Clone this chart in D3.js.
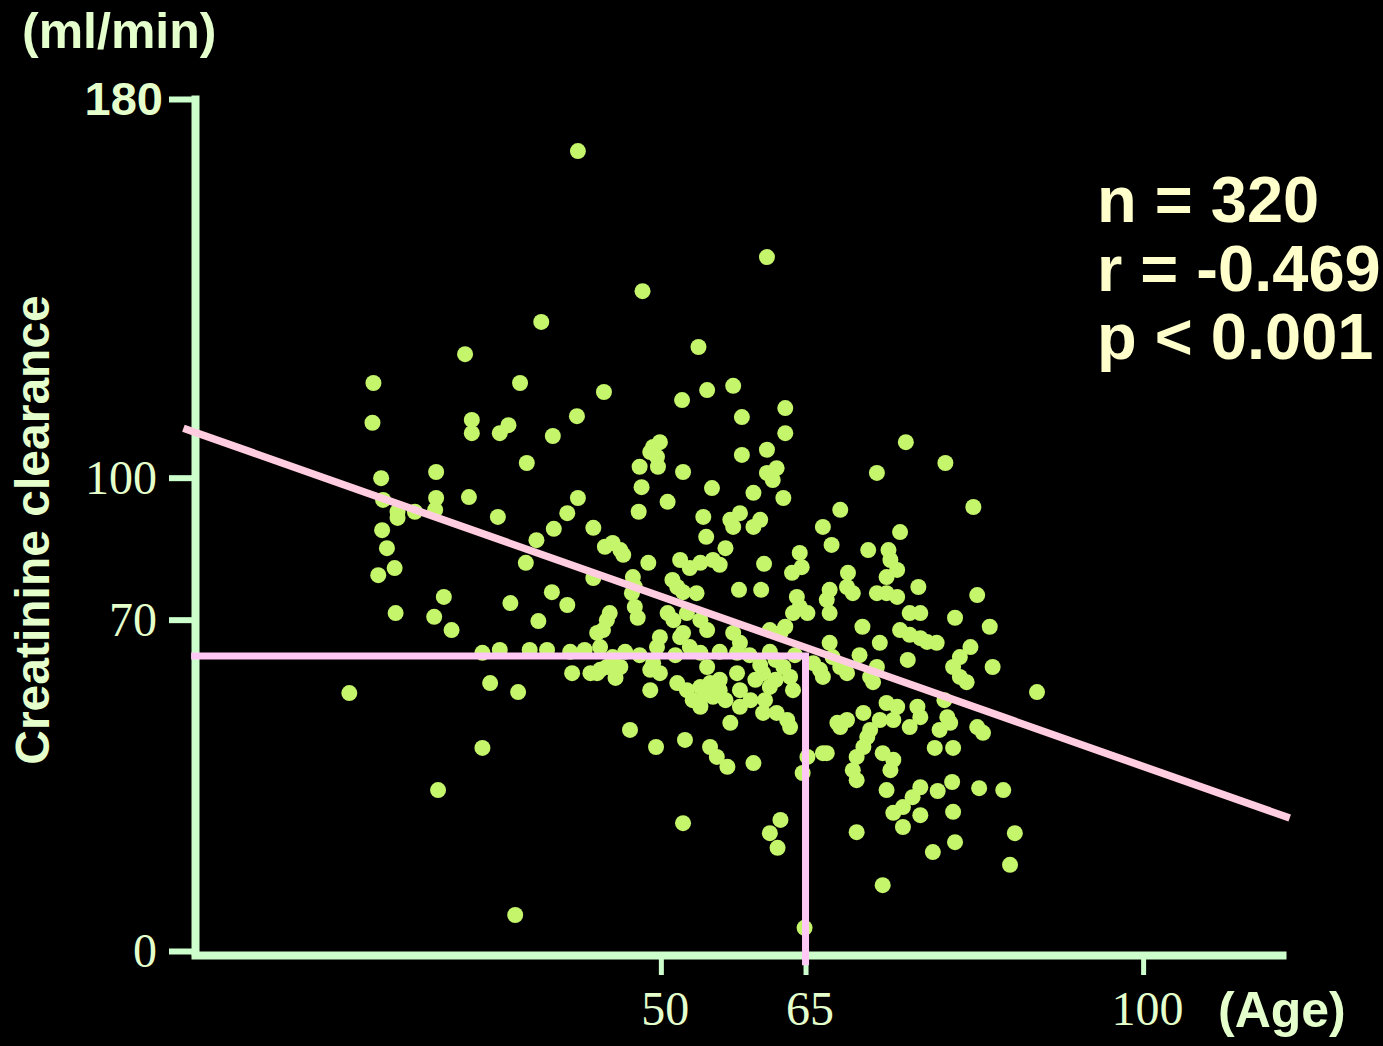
<!DOCTYPE html>
<html>
<head>
<meta charset="utf-8">
<script src="https://cdn.jsdelivr.net/npm/d3@7.9.0/dist/d3.min.js"></script>
<style>
  html, body { margin: 0; padding: 0; background: #000; }
  svg { display: block; }
</style>
</head>
<body>
<div id="chart"></div>
<script>
// [age, creatinine clearance]
const patients = [
  [41.4,169.0],[61.0,146.6],[48.1,139.4],[37.6,132.9],[29.7,126.1],[53.9,127.6],[20.2,120.0],[35.4,120.0],
  [44.1,118.1],[57.5,119.4],[54.8,118.5],[52.2,116.4],[62.9,114.7],[41.3,113.0],[58.4,112.8],[20.1,111.6],
  [30.4,112.2],[30.4,109.4],[33.3,109.4],[34.2,111.1],[38.8,108.8],[62.9,109.4],[75.4,107.5],[49.9,107.5],
  [49.2,106.5],[48.9,105.4],[49.6,104.4],[49.7,102.3],[47.8,102.3],[36.1,103.1],[52.3,101.2],[58.4,104.8],
  [61.0,105.9],[61.0,101.0],[62.0,102.0],[61.6,99.5],[79.5,103.1],[72.4,101.0],[26.7,101.2],[21.0,99.9],
  [55.3,97.8],[48.0,98.0],[59.6,96.8],[62.7,95.7],[30.1,95.9],[26.7,95.7],[41.4,95.7],[21.2,95.3],
  [22.7,92.8],[22.7,91.5],[24.5,92.8],[26.6,93.2],[50.7,94.9],[47.7,92.8],[82.4,93.8],[68.6,93.2],
  [33.1,91.7],[40.3,92.5],[38.9,89.2],[37.1,86.8],[43.0,89.4],[54.4,91.7],[57.2,91.1],[58.2,92.5],
  [57.5,89.6],[59.6,89.6],[60.3,91.1],[66.8,89.6],[74.8,88.5],[21.1,88.9],[21.6,85.1],[54.7,87.5],
  [67.7,85.8],[71.5,84.7],[73.6,84.7],[73.8,82.6],[74.5,80.5],[73.4,79.0],[56.7,85.1],[44.2,85.4],
  [45.0,86.2],[45.8,84.7],[46.1,83.7],[52.0,82.6],[53.0,80.9],[54.1,82.0],[55.4,82.6],[56.1,81.6],
  [48.7,82.0],[36.0,82.0],[60.7,81.8],[20.7,79.4],[22.4,80.9],[64.4,84.1],[64.6,81.1],[63.6,79.9],
  [47.1,79.0],[43.0,78.8],[51.2,78.4],[51.7,76.9],[52.3,75.8],[53.7,75.6],[47.3,76.9],[47.0,75.6],
  [58.1,76.3],[60.4,76.3],[69.4,79.9],[69.3,76.9],[69.9,75.6],[67.5,76.3],[67.2,74.2],[67.5,71.4],
  [72.4,75.6],[73.4,75.6],[74.5,74.8],[76.7,76.9],[82.8,75.2],[38.7,75.8],[27.5,74.8],[34.4,73.5],
  [40.3,73.1],[22.5,71.4],[26.5,70.6],[28.3,67.8],[37.3,69.7],[64.1,74.8],[64.4,72.7],[65.2,71.4],
  [63.7,71.4],[47.3,72.7],[44.7,71.4],[47.6,70.4],[44.4,69.9],[44.0,67.8],[50.7,71.4],[51.3,69.9],
  [52.7,71.4],[54.1,69.9],[54.8,67.8],[52.3,67.2],[75.8,71.4],[76.9,71.4],[80.5,70.4],[84.1,68.5],
  [70.9,68.5],[74.8,67.8],[75.8,66.8],[76.9,66.1],[77.6,65.3],[78.6,65.1],[72.7,65.1],[67.5,65.1],
  [67.8,62.1],[70.6,62.5],[75.6,61.5],[82.1,64.2],[81.0,62.1],[80.3,60.0],[81.0,57.9],[81.7,56.8],
  [84.4,60.0],[89.0,54.7],[68.6,60.0],[69.3,58.7],[71.7,57.9],[72.4,60.0],[62.9,68.5],[62.4,67.2],
  [61.3,67.8],[57.5,67.2],[58.2,65.1],[57.9,63.0],[49.6,64.2],[49.2,60.8],[49.9,58.7],[53.0,64.2],
  [54.1,63.0],[54.8,60.0],[43.7,64.2],[45.0,62.1],[45.8,60.0],[52.0,66.3],[49.9,66.3],[65.8,60.8],
  [66.5,59.4],[43.4,58.7],[44.4,60.0],[48.9,59.4],[51.7,56.6],[52.7,55.1],[54.1,55.8],[55.1,56.6],
  [55.4,53.7],[54.1,51.6],[53.3,53.0],[57.9,58.7],[58.2,55.1],[58.2,51.6],[57.2,48.2],[60.6,58.7],
  [61.3,55.8],[62.7,60.0],[63.4,57.9],[63.7,55.1],[60.6,50.3],[62.0,50.3],[63.1,48.8],[63.4,47.3],
  [66.8,57.9],[46.8,46.7],[49.5,43.1],[52.5,44.6],[55.1,43.1],[55.8,41.0],[56.9,38.9],[59.6,39.7],
  [65.2,41.0],[66.8,41.8],[64.7,37.6],[52.3,27.0],[62.4,27.7],[61.3,24.9],[62.1,21.8],[68.3,48.2],
  [72.0,56.8],[68.6,47.3],[69.3,48.8],[73.4,52.4],[74.5,51.6],[74.1,48.8],[72.7,48.8],[71.7,46.7],
  [71.0,50.3],[71.4,45.2],[71.0,43.1],[76.6,51.6],[76.9,49.4],[75.8,47.3],[79.7,49.4],[80.0,48.2],
  [78.9,46.7],[82.8,47.3],[83.4,46.1],[78.4,42.9],[80.3,42.9],[67.2,41.8],[70.3,41.0],[69.9,38.2],
  [70.3,36.1],[73.0,41.8],[74.1,40.4],[73.8,38.2],[73.4,34.0],[76.9,34.6],[76.1,32.5],[75.1,30.4],
  [74.1,29.2],[75.1,26.2],[76.9,28.7],[80.2,35.7],[83.0,34.4],[85.5,34.0],[80.3,29.4],[70.3,25.1],
  [86.7,24.9],[80.5,23.0],[78.2,20.9],[86.2,18.2],[73.0,13.9],[31.5,63.0],[33.3,63.6],[36.4,63.6],
  [38.2,63.6],[40.8,58.7],[42.7,58.7],[17.7,54.5],[32.3,56.6],[35.2,54.7],[31.5,42.9],[26.9,34.0],
  [34.9,7.6],[64.9,4.9],[78.7,33.8],[79.4,53.0],[40.6,63.2],[42.1,63.6],[46.3,63.2],[47.8,62.5],
  [51.5,62.5],[56.1,63.2],[59.2,62.5],[61.3,63.2],[63.9,62.5],[43.4,67.2],[43.7,59.4],[61.9,61.5],
  [59.8,57.3],[56.1,57.3],[56.7,53.0],[60.8,53.0],[48.9,55.1],[54.6,54.1],[56.1,55.1],[60.3,60.4],
  [61.9,57.3],[59.3,53.0],[45.3,57.7]
];

const xTicks = [50, 65, 100];
const yTicks = [0, 70, 100, 180];
const statLines = ['n = 320', 'r = -0.469', 'p < 0.001'];

// regression line and the 65-year cut-off
const fitAges = [0.5, 115.2];
const fitIntercept = 110.8;
const fitSlope = -0.718;
const cutoffAge = 65;
const cutoffClearance = 62.3;

const width = 1383, height = 1046;
const axisColor = '#ccffcc';
const labelColor = '#e4ffcc';

const svg = d3.select('#chart')
  .append('svg')
  .attr('width', width)
  .attr('height', height);

svg.append('rect')
  .attr('width', width)
  .attr('height', height)
  .attr('fill', '#000');

const xScale = d3.scaleLinear().domain([1.7, 114.4]).range([195, 1282]);
const yScale = d3.scaleLinear().domain([0, 180]).range([951, 99]);

// dots
svg.append('g')
  .selectAll('circle')
  .data(patients)
  .join('circle')
  .attr('cx', d => xScale(d[0]))
  .attr('cy', d => yScale(d[1]))
  .attr('r', 8)
  .attr('fill', '#c4f56a');

// Y axis
const yAxis = svg.append('g')
  .attr('transform', 'translate(195,0)')
  .call(d3.axisLeft(yScale).tickValues(yTicks).tickSize(26).tickPadding(12).tickSizeOuter(0));
yAxis.select('.domain')
  .attr('stroke', axisColor)
  .attr('stroke-width', 8)
  .attr('stroke-linecap', 'square');
yAxis.selectAll('.tick line')
  .attr('stroke', axisColor)
  .attr('stroke-width', 6);
yAxis.selectAll('.tick text')
  .attr('fill', labelColor)
  .style('font-family', '"Liberation Serif", serif')
  .style('font-size', '48px');
yAxis.selectAll('.tick text')
  .filter(d => d === 180)
  .attr('x', -32)
  .style('font-family', '"Liberation Sans", Arial, sans-serif')
  .style('font-weight', 'bold')
  .style('font-size', '47px');

// X axis
const xAxis = svg.append('g')
  .attr('transform', 'translate(0,955)')
  .call(d3.axisBottom(xScale).tickValues(xTicks).tickSize(20).tickPadding(16).tickSizeOuter(0));
xAxis.select('.domain')
  .attr('stroke', axisColor)
  .attr('stroke-width', 8)
  .attr('stroke-linecap', 'square');
xAxis.selectAll('.tick line')
  .attr('stroke', axisColor)
  .attr('stroke-width', 5);
xAxis.selectAll('.tick text')
  .attr('fill', labelColor)
  .attr('dx', 4)
  .style('font-family', '"Liberation Serif", serif')
  .style('font-size', '48px');

// regression line
const line = d3.line().x(d => xScale(d[0])).y(d => yScale(d[1]));
svg.append('path')
  .datum(fitAges.map(a => [a, fitIntercept + fitSlope * a]))
  .attr('d', line)
  .attr('fill', 'none')
  .attr('stroke', '#ffcce0')
  .attr('stroke-width', 7.5);

// cut-off lines
svg.append('path')
  .datum([[1.3, cutoffClearance], [cutoffAge, cutoffClearance], [cutoffAge, -3]])
  .attr('d', line)
  .attr('fill', 'none')
  .attr('stroke', '#ffc8f5')
  .attr('stroke-width', 7);

// titles
const bold = '"Liberation Sans", Arial, sans-serif';
svg.append('text')
  .attr('x', 22)
  .attr('y', 48)
  .attr('fill', labelColor)
  .style('font-family', bold)
  .style('font-weight', 'bold')
  .style('font-size', '50px')
  .text('(ml/min)');

svg.append('text')
  .attr('transform', 'translate(49,530) rotate(-90)')
  .attr('text-anchor', 'middle')
  .attr('fill', labelColor)
  .style('font-family', bold)
  .style('font-weight', 'bold')
  .style('font-size', '48px')
  .text('Creatinine clearance');

svg.append('text')
  .attr('x', 1218)
  .attr('y', 1027)
  .attr('fill', labelColor)
  .style('font-family', bold)
  .style('font-weight', 'bold')
  .style('font-size', '50px')
  .text('(Age)');

svg.append('g')
  .selectAll('text')
  .data(statLines)
  .join('text')
  .attr('x', 1097)
  .attr('y', (d, i) => 222 + i * 68.5)
  .attr('fill', '#ffffcc')
  .style('font-family', bold)
  .style('font-weight', 'bold')
  .style('font-size', '65px')
  .text(d => d);
</script>
</body>
</html>
